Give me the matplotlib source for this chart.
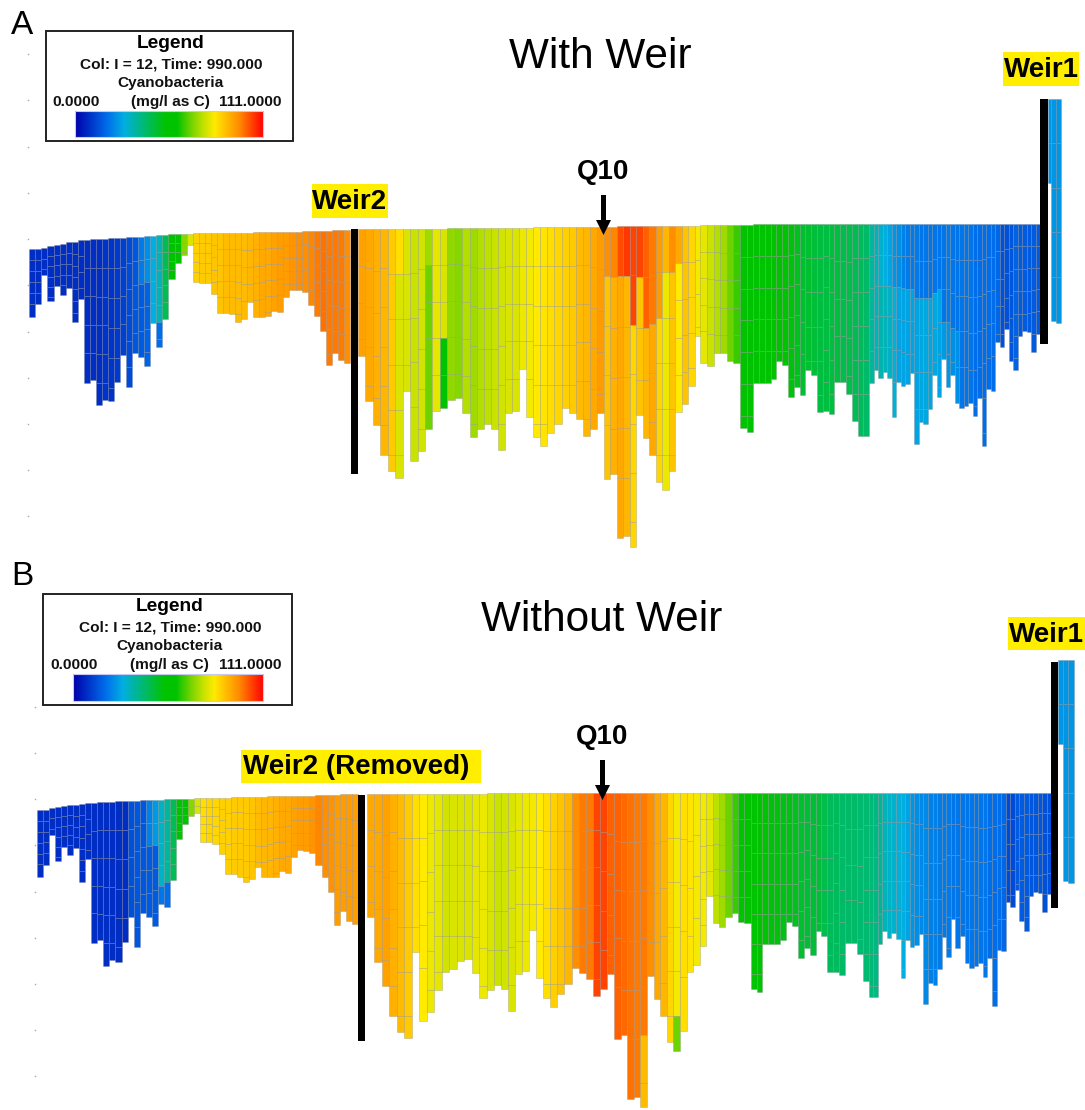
import numpy as np
import matplotlib
matplotlib.use("Agg")
import matplotlib.pyplot as plt
from matplotlib.colors import LinearSegmentedColormap
from matplotlib.patches import Rectangle

plt.rcParams['font.family'] = ['Liberation Sans', 'DejaVu Sans']

# ---------- data: river column surface, bed and concentration (mg/l as C) ----------
a_left_top = [249,249,248,246,245,244,242,242,240,240,239,239,239,238,238,238,237,237,237,236,236,235,235,234,234,234,234] + [233]*10 + [232]*8 + [231]*5 + [230]*3
a_left_bed = [317,304,275,301,286,295,288,322,299,383,380,405,400,401,382,355,387,353,357,366,
              323,347,319,279,263,255,245,282,283,283,294,313,313,314,322,319,302,317,317,316,
              311,312,297,290,290,292,305,316,331,365,353,360,363]
a_left_conc = [8,8,8,8,8,8,8,8,8,8,8,8,9,9,10,11,13,15,21,24,29,33,44,55,60,70,78,86,87,87,
               88,88,89,89,89,89,90,91,92,92,93,94,94,95,96,96,97,98,99,98,98,98,96]
a_mid_top = [229]*12 + [228]*12 + [227]*12 + [226]*13
a_mid_bed = [356,401,425,455,471,478,391,461,451,429,411,408,400,398,413,437,429,424,429,450,
             413,411,369,417,437,446,433,424,408,413,419,436,429,413,479,474,538,536,547,415,
             438,455,482,490,471,412,404,386,336]
a_mid_conc = [93,92,91,90,87,84,78,76,77,72,79,78,71,70,74,72,74,75,76,77,
              78,78,80,81,82,83,84,85,86,87,89,90,92,94,96,97,103,105,104,104,
              101,98,94,90,96,92,88,85,81]
a_right_top = [225]*8 + [224]*58
a_right_bed = [363,366,353,353,361,363,428,432,
               383,383,383,379,361,365,397,387,395,370,375,412,411,414,382,382,394,421,436,436,
               383,370,378,372,378,417,382,386,384,373,444,422,424,409,375,397,359,387,375,403,
               408,406,403,416,398,446,389,391,342,347,329,361,370,336,331,332,352,334]
a_right_conc = [79,76,74,72,68,64,60,58,
                53,53,53,54,54,53,52,50,48,48,47,46,46,46,46,45,45,44,43,42,
                36,33,31,29,27,25,24,22,21,21,21,20,20,20,20,20,20,21,20,20,
                20,20,20,19,19,19,19,19,18,14,14,15,17,16,16,16,16,16]
a_lower = {18:(16,48), 19:(17,52), 21:(19,85), 58:(78,45), 62:(68,40), 64:(60,95),
           87:(88,50), 88:(91,50), 89:(92,63), 90:(90,63), 91:(85,78), 92:(88,75),
           93:(90,85), 94:(92,90), 95:(85,100), 96:(80,50), 97:(88,50), 98:(82,38),
           132:(34,60), 133:(33,60), 134:(32,65), 135:(30,75), 136:(27,60), 137:(27,65),
           138:(27,65), 139:(27,60), 140:(27,60), 141:(28,70), 142:(28,70), 143:(28,70),
           144:(28,70), 145:(27,80), 146:(26,90), 147:(25,90), 148:(24,90), 149:(24,90)}
a_weir_top = [99, 99, 99]
a_weir_bed = [183, 321, 323]
a_weir_conc = [25, 25, 25]

b_left_top = [810,810,808,807,806,805,805,804,803,803,802,802,802,801,801,801,801,800,800,800,
              800,799,799,799,799,799,798,798,798,798,798,798,797,797,797,797,797,797,796,796,
              796,796,796,796,796,796,795,795,795,795,794,794,794]
b_left_bed = [877,865,835,861,847,855,848,882,859,943,940,966,960,962,942,917,947,913,917,926,
              904,907,880,839,824,816,813,842,842,844,854,874,874,877,882,879,867,877,877,877,
              871,873,857,850,851,853,865,877,892,925,911,921,924]
b_left_conc = [8]*15 + [14,15,15,22,26,32,36,44,53,60,70,78,84,85,85,86,86,87,87,87,88,89,90,
               90,91,92,92,93,94,94,95,97,96,95,94,94,94,94]
b_mid_top = [794]*16 + [793]*31
b_mid_bed = [917,962,986,1016,1032,1038,952,1021,1012,990,972,969,961,959,973,998,990,985,989,1011,
             974,971,930,978,998,1007,994,984,968,973,979,996,989,974,1039,1035,1099,1097,1107,976,
             999,1016,1042,1051,1031,972,965]
b_mid_conc = [92,92,93,91,89,87,84,82,80,79,77,78,78,78,79,80,78,76,77,78,
              79,80,81,82,84,86,88,90,96,98,98,104,104,101,101,100,99,98,98,96,
              92,90,85,81,84,83,81]
b_right_top = [793]*68
b_right_bed = [946,896,923,927,917,913,922,923,
               989,992,944,944,944,940,922,926,958,948,955,931,936,972,972,975,943,943,954,981,
               997,997,944,931,938,933,939,978,940,947,945,934,1004,983,985,969,937,957,919,948,
               936,963,968,966,963,977,958,1006,950,951,902,907,890,921,931,896,892,893,912,894]
b_right_conc = [81,79,75,72,68,64,60,57,
                53,53,53,52,52,51,51,50,48,47,47,47,45,43,43,42,42,42,41,41,
                40,39,37,33,32,31,30,29,27,25,24,23,23,22,22,21,21,21,20,20,
                20,20,20,20,20,20,19,19,19,18,13,13,16,16,16,15,15,15,14,14]
b_lower = {18:(16,45), 19:(16,50), 20:(20,83), 21:(19,87), 91:(89,252), 96:(68,206)}
b_weir_top = [660, 660, 660]
b_weir_bed = [744, 881, 883]
b_weir_conc = [25, 25, 25]

tick_a = [54,100,147,193,239,285,332,378,424,470,516]
tick_b = [707,753,799,845,892,938,984,1030,1076]

legend_lines = ['Col: I = 12, Time: 990.000', 'Cyanobacteria']
conc_min, conc_max = 0.0, 111.0

cmap = LinearSegmentedColormap.from_list('wasp', [
    (p, tuple(c / 255 for c in rgb)) for p, rgb in [
    (0.00, (0, 0, 170)), (0.17, (0, 110, 235)), (0.26, (0, 175, 225)), (0.36, (0, 185, 120)),
    (0.48, (0, 195, 0)), (0.54, (0, 195, 0)), (0.62, (120, 212, 0)), (0.68, (195, 225, 0)),
    (0.74, (255, 235, 0)), (0.80, (255, 190, 0)), (0.87, (255, 140, 0)), (0.93, (255, 75, 0)),
    (1.00, (255, 0, 0))]])

fig = plt.figure(figsize=(10.85, 11.10), dpi=100)
ax = fig.add_axes([0, 0, 1, 1])
ax.set_xlim(0, 1085)
ax.set_ylim(1110, 0)
ax.axis('off')


def draw_columns(x0, runs, tops, beds, concs, lower, first=0):
    widths = np.concatenate([[w] * n for n, w in runs])
    edges = x0 + np.concatenate([[0], np.cumsum(widths)[:-1]])
    depth = np.array(beds, float) - np.array(tops, float)
    xs, hs, ws, ys, cs = [], [], [], [], []
    for i in range(len(beds)):
        lo, hi = max(0, i - 3), min(len(beds), i + 4)
        thick = max(np.median(depth[lo:hi]) / 5.0, 4.0)
        thick = min(thick, 52)
        y = tops[i]
        while y < beds[i] - 0.01:
            end = y + thick
            if end > beds[i] - 0.25 * thick:
                end = beds[i]
            mid = 0.5 * (y + end) - tops[i]
            val = concs[i]
            if first + i in lower and mid >= lower[first + i][1]:
                val = lower[first + i][0]
            xs.append(edges[i]); ws.append(widths[i]); ys.append(y); hs.append(end - y)
            cs.append(cmap((val - conc_min) / (conc_max - conc_min)))
            y = end
    ax.bar(xs, hs, ws, bottom=ys, align='edge', color=cs,
           edgecolor=(0.5, 0.5, 0.5, 0.4), linewidth=0.5, zorder=2)


# panel A
draw_columns(29.3, [(53, 6.05)], a_left_top, a_left_bed, a_left_conc, a_lower, 0)
draw_columns(358.0, [(16, 7.44), (18, 7.04), (15, 6.5)], a_mid_top, a_mid_bed, a_mid_conc, a_lower, 53)
draw_columns(700.3, [(8, 6.62), (20, 5.8), (38, 4.5)], a_right_top, a_right_bed, a_right_conc, a_lower, 102)
draw_columns(1047.7, [(1, 3.0), (1, 5.0), (1, 5.3)], a_weir_top, a_weir_bed, a_weir_conc, {})
# panel B
draw_columns(36.7, [(53, 6.06)], b_left_top, b_left_bed, b_left_conc, b_lower, 0)
draw_columns(366.7, [(16, 7.5), (18, 7.07), (13, 6.6)], b_mid_top, b_mid_bed, b_mid_conc, b_lower, 53)
draw_columns(700.0, [(8, 6.33), (20, 5.9), (40, 4.57)], b_right_top, b_right_bed, b_right_conc, b_lower, 100)
draw_columns(1058.3, [(1, 4.3), (1, 5.4), (1, 5.7)], b_weir_top, b_weir_bed, b_weir_conc, {})

# weirs (black bars)
for x, w, y0, y1 in [(351, 7, 229, 474), (1040, 7.7, 99, 344), (358, 6.5, 795, 1041), (1051, 7.3, 662, 908)]:
    ax.add_patch(Rectangle((x, y0), w, y1 - y0, fc='black', ec='none', zorder=4))

# depth ticks
ax.plot([28] * len(tick_a), tick_a, ls='none', marker='s', ms=1.0, mfc='#a8a8a8', mec='none')
ax.plot([35] * len(tick_b), tick_b, ls='none', marker='s', ms=1.0, mfc='#a8a8a8', mec='none')

# panel letters and titles
ax.text(11, 34, 'A', fontsize=24, ha='left', va='baseline', color='black')
ax.text(11, 585, 'B', fontsize=24, ha='left', va='baseline', color='black')
ax.text(600.5, 68, 'With Weir', fontsize=30.4, ha='center', va='baseline')
ax.text(601.5, 631, 'Without Weir', fontsize=30.4, ha='center', va='baseline')

# yellow labels
YEL = '#FFEE00'
for txt, x, y0, x1, y1 in [('Weir1', 1003, 52, 1079, 86), ('Weir2', 312, 184, 388, 218),
                           ('Weir1', 1008, 617, 1085, 650), ('Weir2 (Removed)', 241, 750, 481, 783)]:
    ax.add_patch(Rectangle((x, y0), x1 - x, y1 - y0, fc=YEL, ec='none', zorder=3))
    ax.text(x + 2 if txt.endswith('d)') else 0.5 * (x + x1), 0.5 * (y0 + y1) + 8, txt,
            fontsize=20, fontweight='bold', ha='left' if txt.endswith('d)') else 'center',
            va='baseline', zorder=5)

# Q10 markers
for x, ytxt, y0, y1 in [(603.5, 179, 195, 235), (602.5, 744, 760, 800)]:
    ax.text(x, ytxt, 'Q10', fontsize=20, fontweight='bold', ha='center', va='baseline', zorder=5)
    ax.annotate('', xy=(x, y1), xytext=(x, y0),
                arrowprops=dict(facecolor='black', edgecolor='none', width=3.6, headwidth=10.8,
                                headlength=10.8, shrink=0), zorder=5)


def legend(x0, y0, x1, y1, bx0, bx1, by0, by1, dy):
    ax.add_patch(Rectangle((x0, y0), x1 - x0, y1 - y0, fc='white', ec='#222222', lw=1.4, zorder=6))
    cx = 0.5 * (bx0 + bx1) + 2
    kw = dict(fontsize=11.1, va='baseline', zorder=7, color='#111111', fontweight='bold')
    ax.text(cx, y0 + 17, 'Legend', fontsize=13.8, fontweight='bold', ha='center', va='baseline', zorder=7)
    ax.text(cx, y0 + 37.5, legend_lines[0], ha='center', **kw)
    ax.text(cx, y0 + 56, legend_lines[1], ha='center', **kw)
    ax.text(x0 + dy, y0 + 75, f'{conc_min:.4f}', ha='left', **kw)
    ax.text(cx, y0 + 75, '(mg/l as C)', ha='center', **kw)
    ax.text(x1 - 11, y0 + 75, f'{conc_max:.4f}', ha='right', **kw)
    grad = np.linspace(conc_min, conc_max, 256).reshape(1, -1)
    ax.imshow(grad, cmap=cmap, vmin=conc_min, vmax=conc_max, extent=(bx0, bx1, by1, by0),
              aspect='auto', zorder=7, interpolation='bilinear')
    ax.add_patch(Rectangle((bx0, by0), bx1 - bx0, by1 - by0, fc='none', ec='#c8c8f0', lw=0.8, zorder=8))


legend(45.5, 31, 292.5, 141, 74.5, 263, 111, 137, 6.5)
legend(43.3, 594, 292, 705, 72.7, 263, 674, 701, 7.5)
ax.set_xlim(0, 1085)
ax.set_ylim(1110, 0)

fig.savefig('out.png', dpi=100, facecolor='white')
